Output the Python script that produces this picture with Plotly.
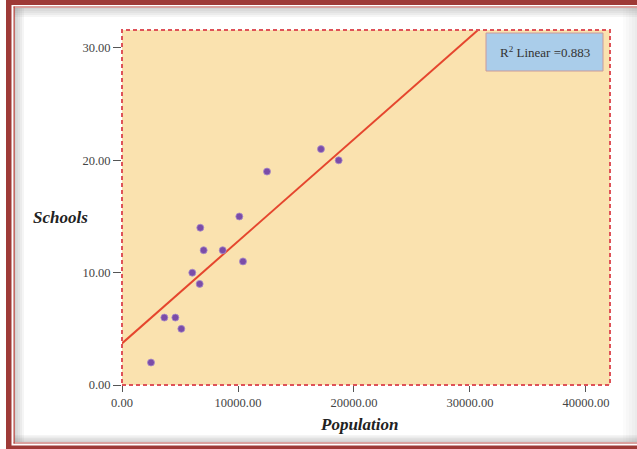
import plotly.graph_objects as go

# Data
population = [2500, 3650, 4600, 5115, 6060, 6695, 6750, 7040, 8680, 10430, 10115, 12500, 17155, 18680]
schools = [2, 6, 6, 5, 10, 9, 14, 12, 12, 11, 15, 19, 21, 20]
fit_intercept = 3.7        # fitted line
fit_slope = 0.000909
x_ticks = [0, 10000, 20000, 30000, 40000]
x_tick_labels = ["0.00", "10000.00", "20000.00", "30000.00", "40000.00"]
y_ticks = [0, 10, 20, 30]
y_tick_labels = ["0.00", "10.00", "20.00", "30.00"]
r2_label = "R<sup>2</sup> Linear =0.883"

W, H = 637, 449
L, R, T, B = 122, 610, 30, 385
X_MAX, Y_MAX = 42070, 31.6

fit_x = [0, X_MAX]
fit_y = [fit_intercept + fit_slope * v for v in fit_x]

fig = go.Figure()
fig.add_trace(go.Scatter(x=fit_x, y=fit_y, mode="lines",
                         line=dict(color="#E5462E", width=2), hoverinfo="skip"))
fig.add_trace(go.Scatter(x=population, y=schools, mode="markers",
                         marker=dict(color="#7A4CA8", size=7,
                                     line=dict(color="#A98BC9", width=0.8))))

def px_x(p):
    return (p - L) / (R - L)

def px_y(p):
    return (B - p) / (B - T)

shapes = []
# plot area fill + dashed border
shapes.append(dict(type="rect", xref="paper", yref="paper", x0=0, x1=1, y0=0, y1=1,
                   fillcolor="#FAE2AF", line=dict(width=0), layer="below"))
shapes.append(dict(type="rect", xref="paper", yref="paper", x0=0, x1=1, y0=0, y1=1,
                   fillcolor="rgba(0,0,0,0)", line=dict(color="#DE5258", width=2, dash="4px,3px"),
                   layer="above"))
# R2 box
shapes.append(dict(type="rect", xref="paper", yref="paper",
                   x0=px_x(486), x1=px_x(603), y0=px_y(71), y1=px_y(33),
                   fillcolor="#AACDEA", line=dict(color="#C99A9A", width=1), layer="above"))

# inner shadows of the frame
for i in range(5):
    a = 0.07
    shapes.append(dict(type="rect", xref="paper", yref="paper",
                       x0=px_x(14), x1=px_x(W), y0=px_y(8), y1=px_y(9 + 2 * i),
                       fillcolor=f"rgba(120,120,120,{a})", line=dict(width=0), layer="below"))
    shapes.append(dict(type="rect", xref="paper", yref="paper",
                       x0=px_x(15), x1=px_x(16 + 2 * i), y0=px_y(442), y1=px_y(8),
                       fillcolor=f"rgba(120,120,120,{a})", line=dict(width=0), layer="below"))
    shapes.append(dict(type="rect", xref="paper", yref="paper",
                       x0=px_x(14), x1=px_x(W), y0=px_y(442), y1=px_y(441 - 1.5 * i),
                       fillcolor=f"rgba(120,120,120,{a})", line=dict(width=0), layer="below"))
    shapes.append(dict(type="rect", xref="paper", yref="paper",
                       x0=px_x(W - 2 - 3 * i), x1=px_x(W), y0=px_y(442), y1=px_y(8),
                       fillcolor="rgba(150,150,150,0.035)", line=dict(width=0), layer="below"))

# frame bands
red = "#9E3A37"
shapes.append(dict(type="rect", xref="paper", yref="paper", x0=px_x(6), x1=px_x(W),
                   y0=px_y(5), y1=px_y(0), fillcolor=red, line=dict(width=0)))
shapes.append(dict(type="rect", xref="paper", yref="paper", x0=px_x(6), x1=px_x(11.5),
                   y0=px_y(H), y1=px_y(0), fillcolor=red, line=dict(width=0)))
shapes.append(dict(type="rect", xref="paper", yref="paper", x0=px_x(6), x1=px_x(W),
                   y0=px_y(H), y1=px_y(445.5), fillcolor=red, line=dict(width=0)))
shapes.append(dict(type="rect", xref="paper", yref="paper", x0=px_x(13.5), x1=px_x(W),
                   y0=px_y(7.5), y1=px_y(6.5), fillcolor="#B5443F", line=dict(width=0)))
shapes.append(dict(type="rect", xref="paper", yref="paper", x0=px_x(13.5), x1=px_x(14.8),
                   y0=px_y(443.5), y1=px_y(6.5), fillcolor="#B5443F", line=dict(width=0)))
shapes.append(dict(type="rect", xref="paper", yref="paper", x0=px_x(13.5), x1=px_x(W),
                   y0=px_y(443.5), y1=px_y(442.5), fillcolor="#B5443F", line=dict(width=0)))

font_family = "Liberation Serif, Times New Roman, serif"

fig.update_layout(
    width=W, height=H,
    margin=dict(l=L, r=W - R, t=T, b=H - B),
    paper_bgcolor="white", plot_bgcolor="rgba(0,0,0,0)",
    showlegend=False,
    font=dict(family=font_family, size=12, color="#3a3a3a"),
    shapes=shapes,
    xaxis=dict(range=[0, X_MAX], tickvals=x_ticks, ticktext=x_tick_labels,
               ticks="outside", ticklen=6, tickwidth=1.3, tickcolor="#555",
               showgrid=False, zeroline=False, showline=False,
               tickfont=dict(family=font_family, size=12.5, color="#444")),
    yaxis=dict(range=[0, Y_MAX], tickvals=y_ticks, ticktext=y_tick_labels,
               ticks="outside", ticklen=8, tickwidth=1.3, tickcolor="#555",
               showgrid=False, zeroline=False, showline=False,
               tickfont=dict(family=font_family, size=12.5, color="#444")),
    annotations=[
        dict(text=r2_label, xref="paper", yref="paper", x=px_x(544.5), y=px_y(52),
             xanchor="center", yanchor="middle",
             showarrow=False, font=dict(family=font_family, size=13, color="#333")),
        dict(text="<b><i>Schools</i></b>", xref="paper", yref="paper", x=px_x(60), y=px_y(217),
             xanchor="center", yanchor="middle",
             showarrow=False, font=dict(family=font_family, size=17, color="#222")),
        dict(text="<b><i>Population</i></b>", xref="paper", yref="paper", x=px_x(359), y=px_y(424),
             xanchor="center", yanchor="middle",
             showarrow=False, font=dict(family=font_family, size=17, color="#222")),
    ],
)

fig.write_html("out.html", config={"displayModeBar": False},
               post_script="document.body.style.margin='0';")
